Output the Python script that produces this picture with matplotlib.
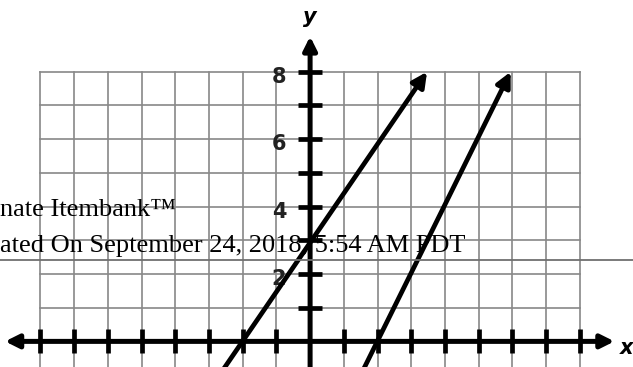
import numpy as np
import matplotlib.pyplot as plt

# grid / axis values
x_ticks = [-8, -7, -6, -5, -4, -3, -2, -1, 1, 2, 3, 4, 5, 6, 7, 8]
y_ticks = [1, 2, 3, 4, 5, 6, 7, 8]
y_labels = [8, 6, 4, 2]

# the two graphed lines (start point at bottom, arrow tip at top)
line_a_x = [-2.69, 3.47]
line_a_y = [-1.0, 8.0]
line_b_x = [1.5, 5.95]
line_b_y = [-1.0, 8.0]

stamp_1 = 'nate Itembank\u2122'
stamp_2 = 'ated On September 24, 2018, 5:54 AM PDT'

fig = plt.figure(figsize=(6.33, 3.67), dpi=100)
ax = fig.add_axes([0, 0, 1, 1])
ax.set_xlim(-9.2, 9.58)
ax.set_ylim(-0.76, 10.13)
ax.axis('off')

grid_col = '#888888'
for gx in range(-8, 9):
    ax.plot([gx, gx], [-1, 8], color=grid_col, lw=1.2, zorder=1)
for gy in y_ticks:
    ax.plot([-8, 8], [gy, gy], color=grid_col, lw=1.2, zorder=1)

# axes with arrows
ax.annotate('', xy=(9.03, 0), xytext=(-9.05, 0),
            arrowprops=dict(arrowstyle='<|-|>', lw=3.6, color='black',
                            mutation_scale=20, shrinkA=0, shrinkB=0), zorder=3)
ax.annotate('', xy=(0, 9.05), xytext=(0, -1),
            arrowprops=dict(arrowstyle='-|>', lw=3.6, color='black',
                            mutation_scale=20, shrinkA=0, shrinkB=0), zorder=3)

ax.plot(x_ticks, np.zeros(len(x_ticks)), '|', color='black', ms=17, mew=3.4, zorder=3)
ax.plot(np.zeros(len(y_ticks)), y_ticks, '_', color='black', ms=17, mew=3.4, zorder=3)

for v in y_labels:
    ax.text(-0.92, v - 0.15, str(v), ha='center', va='center', fontsize=15,
            fontweight='bold', color='#222222', zorder=4)

ax.text(9.38, -0.2, 'x', ha='center', va='center', fontsize=15,
        fontweight='bold', style='italic', zorder=4)
ax.text(0, 9.62, 'y', ha='center', va='center', fontsize=15,
        fontweight='bold', style='italic', zorder=4)

for lx, ly in [(line_a_x, line_a_y), (line_b_x, line_b_y)]:
    ax.annotate('', xy=(lx[1], ly[1]), xytext=(lx[0], ly[0]),
                arrowprops=dict(arrowstyle='-|>', lw=3.4, color='black',
                                mutation_scale=22, shrinkA=0, shrinkB=0), zorder=5)

# print stamp over the picture
fig.text(0.0, 1 - 216 / 367, stamp_1, ha='left', va='baseline',
         family='Liberation Serif', fontsize=19, zorder=10)
fig.text(0.0, 1 - 252 / 367, stamp_2, ha='left', va='baseline',
         family='Liberation Serif', fontsize=19, zorder=10)
fig.add_artist(plt.Line2D([0, 1], [1 - 260 / 367] * 2, color='#707070', lw=1.3,
                          transform=fig.transFigure))

fig.savefig('out.png', dpi=100)
